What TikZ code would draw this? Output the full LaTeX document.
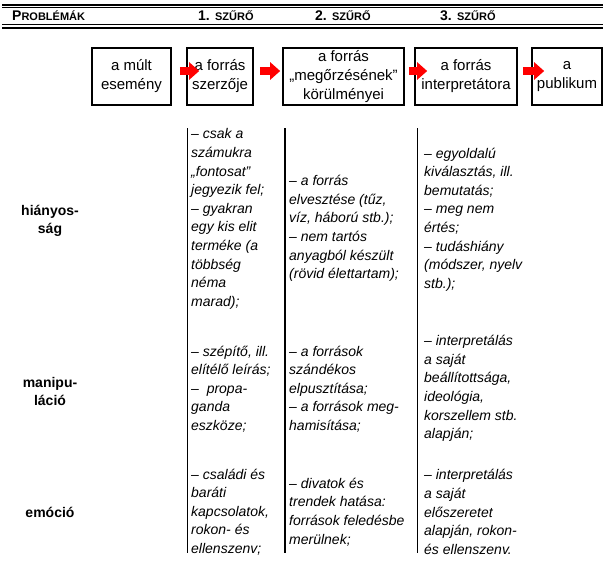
\documentclass[tikz,border=0pt]{standalone}
\usepackage{fontspec}
\setmainfont{Liberation Sans}
\usetikzlibrary{arrows.meta}
\newcommand\kiskap[2]{{\fontsize{14}{14}\selectfont #1}{\fontsize{11}{14}\selectfont #2}}
\begin{document}
\begin{tikzpicture}[x=1pt,y=-1pt,
  doboz/.style={draw,line width=1.6pt,minimum height=57pt,inner sep=0pt,align=center,font=\fontsize{15}{19}\selectfont},
  nyil/.style={red,line width=8pt,-{Triangle[length=10pt,width=17pt]}},
  cella/.style={anchor=west,inner sep=0pt,align=left,font=\fontsize{14}{18.6}\selectfont\itshape},
  sorcim/.style={inner sep=0pt,align=center,font=\fontsize{14}{18}\selectfont\bfseries},
  fejlec/.style={anchor=west,inner sep=0pt,font=\bfseries}]
\useasboundingbox (0,0) rectangle (605,568);
\draw[line width=2pt] (2,4.5) -- (603,4.5);
\draw[line width=0.9pt] (2,7.5) -- (603,7.5);
\draw[line width=0.9pt] (2,24.5) -- (603,24.5);
\draw[line width=2pt] (2,27.5) -- (603,27.5);
\node[fejlec] (problemak) at (12,15.5) {\kiskap{P}{ROBLÉMÁK}};
\node[fejlec] (szuro1) at (198,15.5) {\kiskap{1. }{SZŰRŐ}};
\node[fejlec] (szuro2) at (315,15.5) {\kiskap{2. }{SZŰRŐ}};
\node[fejlec] (szuro3) at (440,15.5) {\kiskap{3. }{SZŰRŐ}};

\node[doboz,minimum width=79pt] (mult) at (131.5,76.5) {a múlt\\esemény};
\node[doboz,minimum width=66pt] (szerzo) at (220,76.5) {a forrás\\szerzője};
\node[doboz,minimum width=121pt] (megorzes) at (343.5,76.5) {a forrás\\„megőrzésének”\\körülményei};
\node[doboz,minimum width=102pt] (interpretator) at (466,76.5) {a forrás\\interpretátora};
\node[doboz,minimum width=70pt] (publikum) at (567,76.5) {a\\publikum};
\draw[nyil] ([xshift=8pt,yshift=5.5pt]mult.east) -- ([xshift=13pt,yshift=5.5pt]szerzo.west);
\draw[nyil] ([xshift=6pt,yshift=5.5pt]szerzo.east) -- ([xshift=-2pt,yshift=5.5pt]megorzes.west);
\draw[nyil] ([xshift=4pt,yshift=5.5pt]megorzes.east) -- ([xshift=13pt,yshift=5.5pt]interpretator.west);
\draw[nyil] ([xshift=5pt,yshift=5.5pt]interpretator.east) -- ([xshift=13pt,yshift=5.5pt]publikum.west);

\foreach \x in {187.5,285,417.5}
  \draw[line width=1.6pt] (\x,128) -- (\x,553);

\node[sorcim] (hiany) at (50,221) {hiányos-\\ság};
\node[sorcim] (manipulacio) at (50,391) {manipu-\\láció};
\node[sorcim] (emocio) at (50,512) {emóció};

\node[cella] (hiany1) at (191,219) {– csak a\\számukra\\„fontosat”\\jegyezik fel;\\– gyakran\\egy kis elit\\terméke (a\\többség\\néma\\marad);};
\node[cella] (hiany2) at (289,228.5) {– a forrás\\elvesztése (tűz,\\víz, háború stb.);\\– nem tartós\\anyagból készült\\(rövid élettartam);};
\node[cella] (hiany3) at (424,219.5) {– egyoldalú\\kiválasztás, ill.\\bemutatás;\\– meg nem\\értés;\\– tudáshiány\\(módszer, nyelv\\stb.);};

\node[cella] (manipulacio1) at (191,389) {– szépítő, ill.\\elítélő leírás;\\–\ \ propa-\\ganda\\eszköze;};
\node[cella] (manipulacio2) at (289,389) {– a források\\szándékos\\elpusztítása;\\– a források meg-\\hamisítása;};
\node[cella] (manipulacio3) at (424,388.5) {– interpretálás\\a saját\\beállítottsága,\\ideológia,\\korszellem stb.\\alapján;};

\node[cella] (emocio1) at (191,512) {– családi és\\baráti\\kapcsolatok,\\rokon- és\\ellenszenv;};
\node[cella] (emocio2) at (289,512) {– divatok és\\trendek hatása:\\források feledésbe\\merülnek;};
\node[cella] (emocio3) at (424,512) {– interpretálás\\a saját\\előszeretet\\alapján, rokon-\\és ellenszenv.};
\end{tikzpicture}
\end{document}
